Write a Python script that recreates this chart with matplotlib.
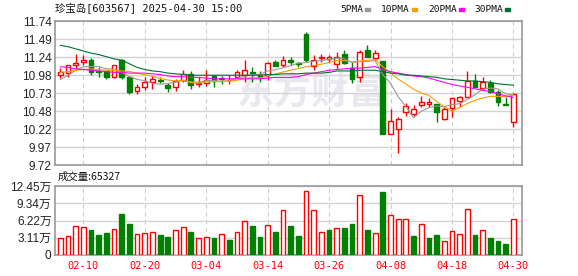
import numpy as np
import pandas as pd
import matplotlib
matplotlib.use("Agg")
import matplotlib.pyplot as plt
from matplotlib.patches import Rectangle

plt.rcParams['font.family'] = ['Liberation Sans', 'Noto Sans CJK SC']

# trading days 2025-02-05 .. 2025-04-30 (04-04 Qingming holiday)
days = pd.bdate_range('2025-02-05', '2025-04-30')
days = days[days != pd.Timestamp('2025-04-04')]
trade_dates = [d.strftime('%m-%d') for d in days]

open_ = [10.99, 11.01, 11.13, 11.17, 11.20, 11.04, 11.04, 10.95, 11.19, 10.95,
         10.76, 10.82, 10.88, 10.92, 10.84, 10.82, 10.92, 11.00, 10.85, 10.87,
         10.97, 10.94, 10.91, 10.96, 10.99, 11.02, 10.98, 10.98, 11.16, 11.13,
         11.19, 11.15, 11.56, 11.11, 11.22, 11.21, 11.14, 11.28, 11.08, 10.96,
         11.34, 11.22, 11.18, 10.16, 10.22, 10.46, 10.43, 10.56, 10.58, 10.57,
         10.36, 10.52, 10.62, 10.68, 10.90, 10.80, 10.87, 10.74, 10.58, 10.33]
high = [11.08, 11.13, 11.28, 11.26, 11.22, 11.10, 11.06, 11.13, 11.21, 10.96,
        10.86, 10.95, 10.97, 10.95, 10.87, 10.93, 11.05, 11.04, 10.95, 11.05,
        10.98, 10.97, 10.98, 11.05, 11.20, 11.09, 11.04, 11.16, 11.19, 11.25,
        11.23, 11.17, 11.58, 11.27, 11.28, 11.27, 11.30, 11.34, 11.16, 11.33,
        11.40, 11.34, 11.18, 10.50, 10.40, 10.59, 10.56, 10.69, 10.66, 10.58,
        10.53, 10.68, 10.69, 11.04, 11.00, 10.95, 10.92, 10.77, 10.68, 10.73]
low = [10.94, 10.96, 11.07, 11.12, 10.99, 10.96, 10.93, 10.94, 10.93, 10.72,
       10.72, 10.77, 10.78, 10.87, 10.75, 10.76, 10.89, 10.79, 10.82, 10.83,
       10.81, 10.86, 10.86, 10.94, 10.89, 10.89, 10.89, 10.91, 11.11, 11.10,
       11.13, 11.10, 11.16, 11.05, 11.17, 11.16, 11.07, 11.14, 10.87, 10.89,
       11.23, 11.20, 10.16, 10.16, 9.89, 10.41, 10.41, 10.53, 10.53, 10.33,
       10.35, 10.40, 10.54, 10.67, 10.81, 10.77, 10.73, 10.55, 10.56, 10.26]
close = [11.02, 11.12, 11.15, 11.19, 11.03, 11.02, 10.96, 11.12, 10.96, 10.75,
         10.81, 10.88, 10.93, 10.90, 10.80, 10.90, 11.00, 10.84, 10.87, 10.91,
         10.90, 10.93, 10.92, 11.02, 11.06, 11.01, 10.96, 11.15, 11.11, 11.19,
         11.16, 11.14, 11.19, 11.20, 11.24, 11.23, 11.24, 11.15, 10.93, 11.31,
         11.24, 11.29, 10.16, 10.34, 10.36, 10.55, 10.51, 10.61, 10.60, 10.47,
         10.50, 10.66, 10.67, 10.90, 10.81, 10.88, 10.74, 10.61, 10.56, 10.72]
# volume in 万 shares
volume = [3.01, 3.37, 5.17, 4.99, 4.51, 3.61, 3.97, 4.63, 7.40, 5.59,
          3.73, 3.97, 4.09, 3.61, 3.25, 4.45, 4.99, 4.15, 3.01, 3.19,
          3.07, 3.73, 2.71, 4.15, 6.07, 5.23, 3.25, 5.35, 4.15, 8.06,
          5.23, 3.43, 11.49, 8.06, 4.09, 4.51, 4.81, 4.87, 5.59, 10.83,
          4.51, 3.91, 11.37, 7.16, 6.44, 6.44, 3.43, 5.53, 3.07, 3.61,
          2.53, 4.27, 3.73, 8.24, 3.61, 4.45, 3.07, 2.53, 1.98, 6.53]

# MA values before enough history is shown
ma5_head = [10.92, 10.98, 11.05, 11.10]
ma10_head = [11.02, 11.03, 11.05, 11.06, 11.07, 11.06, 11.05, 11.05, 11.04]
ma20 = [11.10, 11.09, 11.07, 11.06, 11.05, 11.04, 11.03, 11.02, 11.02, 11.01,
        11.01, 11.01, 11.00, 10.99, 10.97, 10.96, 10.96, 10.95, 10.95, 10.94,
        10.93, 10.93, 10.93, 10.93, 10.93, 10.93, 10.93, 10.94, 10.95, 10.95,
        10.95, 10.96, 10.99, 11.01, 11.03, 11.05, 11.06, 11.07, 11.08, 11.08,
        11.09, 11.10, 11.06, 11.03, 11.01, 10.99, 10.97, 10.96, 10.94, 10.91,
        10.88, 10.85, 10.83, 10.81, 10.79, 10.77, 10.75, 10.72, 10.69, 10.67]
ma30 = [11.40, 11.38, 11.35, 11.32, 11.29, 11.27, 11.24, 11.21, 11.19, 11.14,
        11.09, 11.06, 11.04, 11.03, 11.01, 11.00, 10.99, 10.98, 10.98, 10.98,
        10.98, 10.98, 10.98, 10.98, 10.98, 10.98, 10.98, 10.99, 10.99, 11.00,
        11.00, 11.00, 11.01, 11.01, 11.01, 11.02, 11.04, 11.04, 11.04, 11.05,
        11.05, 11.05, 11.03, 11.01, 11.00, 10.98, 10.98, 10.97, 10.96, 10.95,
        10.93, 10.92, 10.91, 10.90, 10.90, 10.89, 10.88, 10.86, 10.85, 10.84]

price_ticks = ['9.72', '9.97', '10.22', '10.48', '10.73', '10.98', '11.24', '11.49', '11.74']
vol_ticks = [0, 3.11, 6.22, 9.34, 12.45]
vol_tick_labels = ['0', '3.11万', '6.22万', '9.34万', '12.45万']
date_labels = ['02-10', '02-20', '03-04', '03-14', '03-26', '04-08', '04-18', '04-30']

RED = '#ff0000'
GREEN = '#008000'
GRID = '#d3d3d3'
FRAME = '#999999'

c = pd.Series(close)
ma5 = c.rolling(5).mean().values
ma5[:4] = ma5_head
ma10 = c.rolling(10).mean().values
ma10[:9] = ma10_head

x = np.arange(len(close))
o = np.array(open_)
cl = np.array(close)
up = cl >= o
vol_up = np.r_[up[0], np.diff(cl) > 0]
tick_pos = [trade_dates.index(d) for d in date_labels]

fig = plt.figure(figsize=(5.78, 2.76), dpi=100)
ax = fig.add_axes([0.0952, 0.402, 0.808, 0.5217])
axv = fig.add_axes([0.0952, 0.0761, 0.808, 0.25])

for a in (ax, axv):
    a.set_xlim(-0.69, 60.13)
    for s in a.spines.values():
        s.set_color(FRAME)
        s.set_linewidth(1.2)
    a.tick_params(length=0, labelsize=8.5, colors='#222222', pad=2.5)
    for t in tick_pos:
        a.axvline(t, color='#cccccc', lw=0.8, ls=(0, (4, 3)), zorder=0)

# watermark
ax.text(0.55, 0.5, '东方财富', transform=ax.transAxes, fontsize=27, fontweight='bold',
        family=['Noto Sans CJK SC'], color='#e8e8ee', ha='center', va='center', zorder=0.5)

# candles
body = np.abs(cl - o)
body = np.maximum(body, 0.006)
bottom = np.minimum(cl, o)
top = bottom + body
ax.vlines(x, high, top, colors=np.where(up, RED, GREEN), lw=1, zorder=2)
ax.vlines(x, low, bottom, colors=np.where(up, RED, GREEN), lw=1, zorder=2)
ax.bar(x, body, bottom=bottom, width=0.62,
       color=np.where(up, 'white', GREEN), edgecolor=np.where(up, RED, GREEN),
       linewidth=1, zorder=3)

# moving averages
ax.plot(x, ma5, color='#999999', lw=0.8, zorder=4)
ax.plot(x, ma10, color='#f5a000', lw=0.8, zorder=4)
ax.plot(x, ma20, color='#ff00ff', lw=0.8, zorder=4)
ax.plot(x, ma30, color='#006f35', lw=0.8, zorder=4)

pt = np.linspace(9.72, 11.74, 9)
ax.set_ylim(9.72, 11.74)
ax.set_yticks(pt)
ax.set_yticklabels(price_ticks)
ax.set_xticks([])
ax.grid(axis='y', color=GRID, lw=1, zorder=0)
ax.set_axisbelow(True)

# volume
axv.bar(x, volume, width=0.62, color=np.where(vol_up, 'white', GREEN),
        edgecolor=np.where(vol_up, RED, GREEN), linewidth=1, zorder=3)
axv.set_ylim(0, 12.45)
axv.set_yticks(vol_ticks)
axv.set_yticklabels(vol_tick_labels)
axv.grid(axis='y', color=GRID, lw=1, zorder=0)
axv.set_axisbelow(True)
axv.set_xticks(tick_pos)
axv.set_xticklabels(date_labels, family=['DejaVu Sans Mono'], fontsize=7.5, color=RED)
axv.tick_params(axis='x', pad=4)

# header texts
fig.text(55 / 578, 1 - 9 / 276, '珍宝岛[603567] 2025-04-30 15:00',
         family=['DejaVu Sans Mono', 'Noto Sans CJK SC'], fontsize=7.5, va='center', color='#111111')
legend = [('5PMA', '#999999', 340), ('10PMA', '#f5a000', 381),
          ('20PMA', '#ff00ff', 428), ('30PMA', '#006f35', 474)]
for name, col, px in legend:
    fig.text(px / 578, 1 - 9 / 276, name, family=['DejaVu Sans Mono'], fontsize=6.8,
             va='center', color='#111111')
    w = len(name) * 5.6 + 3
    fig.add_artist(Rectangle(((px + w) / 578, 1 - 11 / 276), 5 / 578, 3.5 / 276,
                             transform=fig.transFigure, color=col))
fig.text(58 / 578, 1 - 177 / 276, '成交量:65327', family=['Noto Sans CJK SC', 'DejaVu Sans'],
         fontsize=7.5, va='center', color='#111111')

fig.savefig('out.png', dpi=100)
